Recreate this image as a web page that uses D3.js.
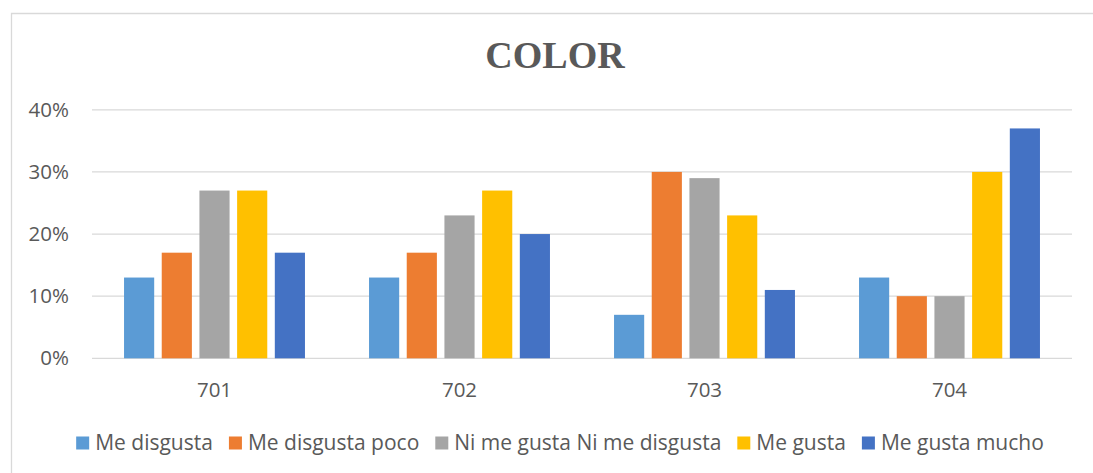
<!DOCTYPE html>
<html>
<head>
<meta charset="utf-8">
<script src="https://cdn.jsdelivr.net/npm/d3@7"></script>
<style>
  html, body { margin: 0; padding: 0; background: #fff; overflow: hidden; }
  svg { display: block; }
</style>
</head>
<body>
<svg id="chart" width="1093" height="473"></svg>
<script>
const categories = ["701", "702", "703", "704"];
const seriesNames = ["Me disgusta", "Me disgusta poco", "Ni me gusta Ni me disgusta", "Me gusta", "Me gusta mucho"];
const meDisgusta = [0.13, 0.13, 0.07, 0.13];
const meDisgustaPoco = [0.17, 0.17, 0.30, 0.10];
const niNi = [0.27, 0.23, 0.29, 0.10];
const meGusta = [0.27, 0.27, 0.23, 0.30];
const meGustaMucho = [0.17, 0.20, 0.11, 0.37];
const seriesColors = ["#5B9BD5", "#ED7D31", "#A5A5A5", "#FFC000", "#4472C4"];
const yTicks = [0, 0.1, 0.2, 0.3, 0.4];
const title = "COLOR";

const seriesValues = [meDisgusta, meDisgustaPoco, niNi, meGusta, meGustaMucho];

const svg = d3.select("#chart");
const font = "'Open Sans', 'Noto Sans', sans-serif";
const textColor = "#595959";

// chart frame (right and bottom edges lie outside the picture)
svg.append("path")
  .attr("d", "M11.5,480 L11.5,13.5 L1100,13.5")
  .attr("fill", "none").attr("stroke", "#D9D9D9").attr("stroke-width", 1.3);

const plot = { left: 92, right: 1072, top: 109.8, bottom: 358.3 };

const y = d3.scaleLinear().domain([0, 0.4]).range([plot.bottom, plot.top]);
const x0 = d3.scaleBand().domain(categories).range([plot.left, plot.right]).padding(0);
const x1 = d3.scaleBand().domain(d3.range(seriesNames.length))
  .range([0, x0.bandwidth()]).paddingInner(0.2).paddingOuter(0.85);

// gridlines
svg.append("g").selectAll("line").data(yTicks).join("line")
  .attr("x1", plot.left).attr("x2", plot.right)
  .attr("y1", d => y(d)).attr("y2", d => y(d))
  .attr("stroke", "#D9D9D9").attr("stroke-width", 1.3);

// y labels
svg.append("g").selectAll("text").data(yTicks).join("text")
  .attr("x", 69).attr("y", d => y(d))
  .attr("dy", "0.35em")
  .attr("text-anchor", "end")
  .attr("font-family", font).attr("font-size", 20.5)
  .attr("fill", textColor)
  .text(d => d3.format(".0%")(d));

// bars
const groups = svg.append("g").selectAll("g").data(categories).join("g")
  .attr("transform", d => `translate(${x0(d)},0)`);
groups.selectAll("rect")
  .data((c, ci) => seriesValues.map((vals, si) => ({ si, v: vals[ci] })))
  .join("rect")
  .attr("x", d => x1(d.si))
  .attr("width", x1.bandwidth())
  .attr("y", d => y(d.v))
  .attr("height", d => y(0) - y(d.v))
  .attr("fill", d => seriesColors[d.si]);

// category labels
svg.append("g").selectAll("text").data(categories).join("text")
  .attr("x", d => x0(d) + x0.bandwidth() / 2)
  .attr("y", 396.5)
  .attr("text-anchor", "middle")
  .attr("font-family", font).attr("font-size", 20.5)
  .attr("fill", textColor)
  .text(d => d);

// title
svg.append("text")
  .attr("x", 555).attr("y", 68)
  .attr("text-anchor", "middle")
  .attr("font-family", "'Liberation Serif', 'Times New Roman', serif")
  .attr("font-weight", "bold")
  .attr("font-size", 38)
  .attr("fill", textColor)
  .text(title);

// legend
const legend = svg.append("g");
const sw = 13, gapSwText = 6, gapItem = 16;
const items = legend.selectAll("g").data(seriesNames).join("g");
items.append("rect")
  .attr("width", sw).attr("height", sw)
  .attr("y", 436.5)
  .attr("fill", (d, i) => seriesColors[i]);
items.append("text")
  .attr("x", sw + gapSwText)
  .attr("y", 450)
  .attr("font-family", font).attr("font-size", 21)
  .attr("fill", textColor)
  .text(d => d);
let widths = [];
items.each(function () {
  widths.push(d3.select(this).select("text").node().getComputedTextLength());
});
const total = d3.sum(widths, w => sw + gapSwText + w) + gapItem * (widths.length - 1);
let cx = 560 - total / 2;
items.each(function (d, i) {
  d3.select(this).attr("transform", `translate(${cx},0)`);
  cx += sw + gapSwText + widths[i] + gapItem;
});
</script>
</body>
</html>
